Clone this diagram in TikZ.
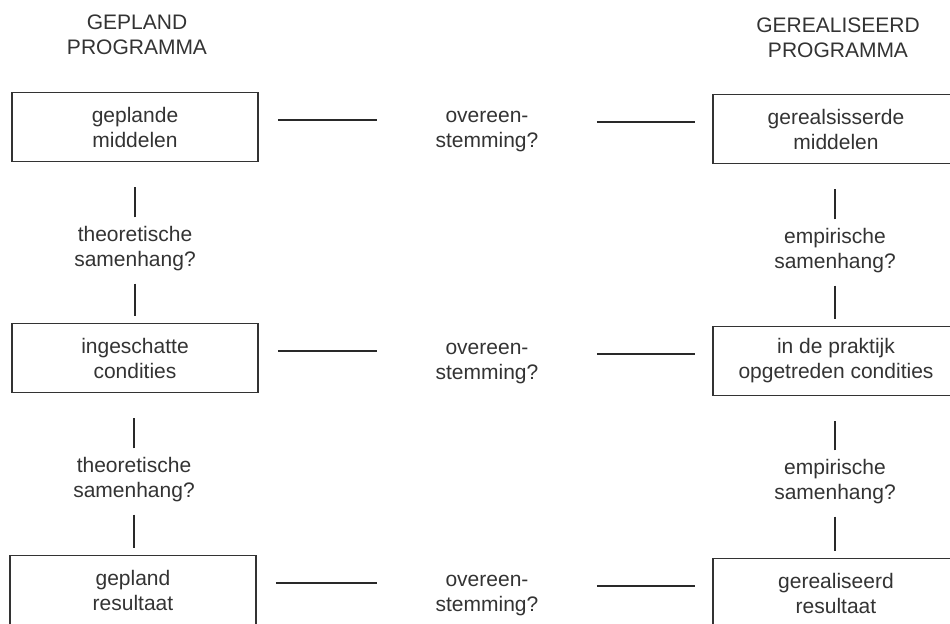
\documentclass[tikz,border=0pt]{standalone}
\usepackage{fontspec}
\setmainfont{Liberation Sans}
\usetikzlibrary{shapes}
\definecolor{ink}{HTML}{333333}

\begin{document}
\begin{tikzpicture}[x=0.5pt, y=-0.5pt,
  every node/.style={font=\fontsize{10.5}{12.5}\selectfont, text=ink, align=center},
  box/.style={draw=ink, rectangle, line width=0.8pt, minimum width=123pt, minimum height=34.5pt, inner sep=0pt},
  tag/.style={inner sep=0pt},
  link/.style={draw=ink!80!black, line width=1pt},
  upper/.style={link, shorten <=4.5pt, shorten >=12.5pt},
  lower/.style={link, shorten <=6pt, shorten >=3.5pt}]
\useasboundingbox (0,0) rectangle (950,623);
\clip (0,0) rectangle (950,623);

\node[tag] (planhead) at (137,35)
  {GEPLAND\\PROGRAMMA};
\node[tag] (realhead) at (838,38)
  {GEREALISEERD\\PROGRAMMA};

\node[box] (planmid) at (135,127)
  {geplande\\middelen};
\node[box] (plancond) at (135,358)
  {ingeschatte\\condities};
\node[box] (planres) at (133,590)
  {gepland\\resultaat};

\node[box] (realmid) at (836,129)
  {gerealsisserde\\middelen};
\node[box] (realcond) at (836,361)
  {in de praktijk\\opgetreden condities};
\node[box] (realres) at (836,593)
  {gerealiseerd\\resultaat};

\node[tag] (match1) at (487,132)
  {overeen-\\stemming?};
\node[tag] (match2) at (487,364)
  {overeen-\\stemming?};
\node[tag] (match3) at (487,596)
  {overeen-\\stemming?};

\node[tag] (theo1) at (135,249)
  {theoretische\\samenhang?};
\node[tag] (theo2) at (134,480)
  {theoretische\\samenhang?};
\node[tag] (emp1) at (835,251)
  {empirische\\samenhang?};
\node[tag] (emp2) at (835,482)
  {empirische\\samenhang?};

% planned vs realised
\draw[link, shorten <=9.5pt, shorten >=29pt] ([yshift=3.5pt]planmid.east) -- ([yshift=3.5pt]planmid.east -| match1.west);
\draw[link, shorten <=29pt, shorten >=8.5pt] ([yshift=3.5pt]realmid.west -| match1.east) -- ([yshift=3.5pt]realmid.west);
\draw[link, shorten <=9.5pt, shorten >=29pt] ([yshift=3.5pt]plancond.east) -- ([yshift=3.5pt]plancond.east -| match2.west);
\draw[link, shorten <=29pt, shorten >=8.5pt] ([yshift=3.5pt]realcond.west -| match2.east) -- ([yshift=3.5pt]realcond.west);
\draw[link, shorten <=9.5pt, shorten >=29pt] ([yshift=3.5pt]planres.east) -- ([yshift=3.5pt]planres.east -| match3.west);
\draw[link, shorten <=29pt, shorten >=8.5pt] ([yshift=3.5pt]realres.west -| match3.east) -- ([yshift=3.5pt]realres.west);

% columns
\draw[upper] (theo1.north) -- (theo1.north |- planmid.south);
\draw[lower] (theo1.south) -- (theo1.south |- plancond.north);
\draw[upper] (theo2.north) -- (theo2.north |- plancond.south);
\draw[lower] (theo2.south) -- (theo2.south |- planres.north);
\draw[upper] (emp1.north) -- (emp1.north |- realmid.south);
\draw[lower] (emp1.south) -- (emp1.south |- realcond.north);
\draw[upper] (emp2.north) -- (emp2.north |- realcond.south);
\draw[lower] (emp2.south) -- (emp2.south |- realres.north);

\end{tikzpicture}
\end{document}
